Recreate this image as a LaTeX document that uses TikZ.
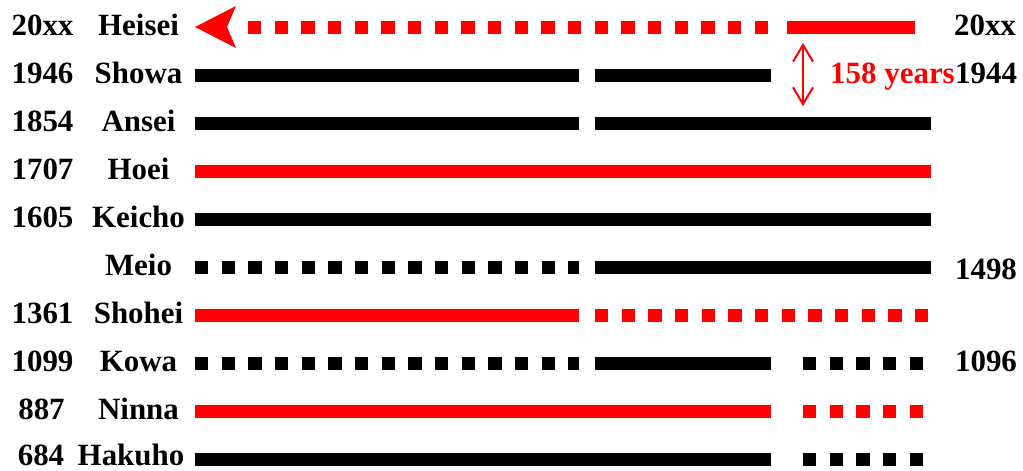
\documentclass[tikz,border=0pt]{standalone}
\usepackage{fontspec}
\setmainfont{Liberation Serif}
\usetikzlibrary{arrows.meta, positioning}

\begin{document}
\begin{tikzpicture}[x=0.03cm, y=-0.03cm,
    lbl/.style={font=\fontsize{26.4}{30}\selectfont\bfseries, inner sep=0pt, text height=17.5pt, text depth=0pt},
    bar/.style={line width=0.39cm},
    dots/.style={line width=0.39cm, dash pattern=on 0.4cm off 0.4cm}]
    \useasboundingbox (0,0) rectangle (1023,470);

    % Heisei (20xx)
    \node[lbl] (heiseiyr) at (42.5, 25) {20xx};
    \node[lbl] (heisei) at (138.5, 25) {Heisei};
    \fill[red] (195, 27) -- (236, 6) -- (227, 27) -- (236, 48) -- cycle;
    \draw[dots, red] (248, 27) -- (771, 27);
    \draw[bar, red] (787, 27) -- (915, 27);
    \node[lbl] (heiseiend) at (985, 25) {20xx};

    % Showa (1946)
    \node[lbl] (showayr) at (42.5, 73) {1946};
    \node[lbl] (showa) at (138.5, 73) {Showa};
    \draw[bar] (195, 75) -- (579, 75);
    \draw[bar] (595, 75) -- (771, 75);

    % gap between Heisei and Ansei
    \coordinate (gaptop) at (803, 43);
    \coordinate (gapbot) at (803, 106);
    \draw[red, line width=0.06cm, {Straight Barb[length=0.5cm, width=0.6cm]}-{Straight Barb[length=0.5cm, width=0.6cm]}] (gaptop) -- (gapbot);
    \node[lbl, red, anchor=east] (gapyears) at (955, 73) {158 years};
    \node[lbl, right=0pt of gapyears] (showaend) {1944};

    % Ansei (1854)
    \node[lbl] (anseiyr) at (42.5, 121) {1854};
    \node[lbl] (ansei) at (138.5, 121) {Ansei};
    \draw[bar] (195, 123) -- (579, 123);
    \draw[bar] (595, 123) -- (931, 123);

    % Hoei (1707)
    \node[lbl] (hoeiyr) at (42.5, 169) {1707};
    \node[lbl] (hoei) at (138.5, 169) {Hoei};
    \draw[bar, red] (195, 171) -- (931, 171);

    % Keicho (1605)
    \node[lbl] (keichoyr) at (42.5, 217) {1605};
    \node[lbl] (keicho) at (138.5, 217) {Keicho};
    \draw[bar] (195, 219) -- (931, 219);

    % Meio
    \node[lbl] (meio) at (138.5, 265) {Meio};
    \draw[dots] (195, 267) -- (579, 267);
    \draw[bar] (595, 267) -- (931, 267);
    \node[lbl] (meioend) at (986, 269) {1498};

    % Shohei (1361)
    \node[lbl] (shoheiyr) at (42.5, 313) {1361};
    \node[lbl] (shohei) at (138.5, 313) {Shohei};
    \draw[bar, red] (195, 315) -- (579, 315);
    \draw[dots, red] (595, 315) -- (929, 315);

    % Kowa (1099)
    \node[lbl] (kowayr) at (42.5, 361) {1099};
    \node[lbl] (kowa) at (138.5, 361) {Kowa};
    \draw[dots] (195, 363) -- (579, 363);
    \draw[bar] (595, 363) -- (771, 363);
    \draw[dots] (803, 363) -- (923, 363);
    \node[lbl] (kowaend) at (986, 361) {1096};

    % Ninna (887)
    \node[lbl] (ninnayr) at (41.5, 409) {887};
    \node[lbl] (ninna) at (138.5, 409) {Ninna};
    \draw[bar, red] (195, 411) -- (771, 411);
    \draw[dots, red] (803, 411) -- (923, 411);

    % Hakuho (684)
    \node[lbl] (hakuhoyr) at (41, 455.5) {684};
    \node[lbl] (hakuho) at (131, 455.5) {Hakuho};
    \draw[bar] (195, 459) -- (771, 459);
    \draw[dots] (803, 459) -- (923, 459);
\end{tikzpicture}
\end{document}
